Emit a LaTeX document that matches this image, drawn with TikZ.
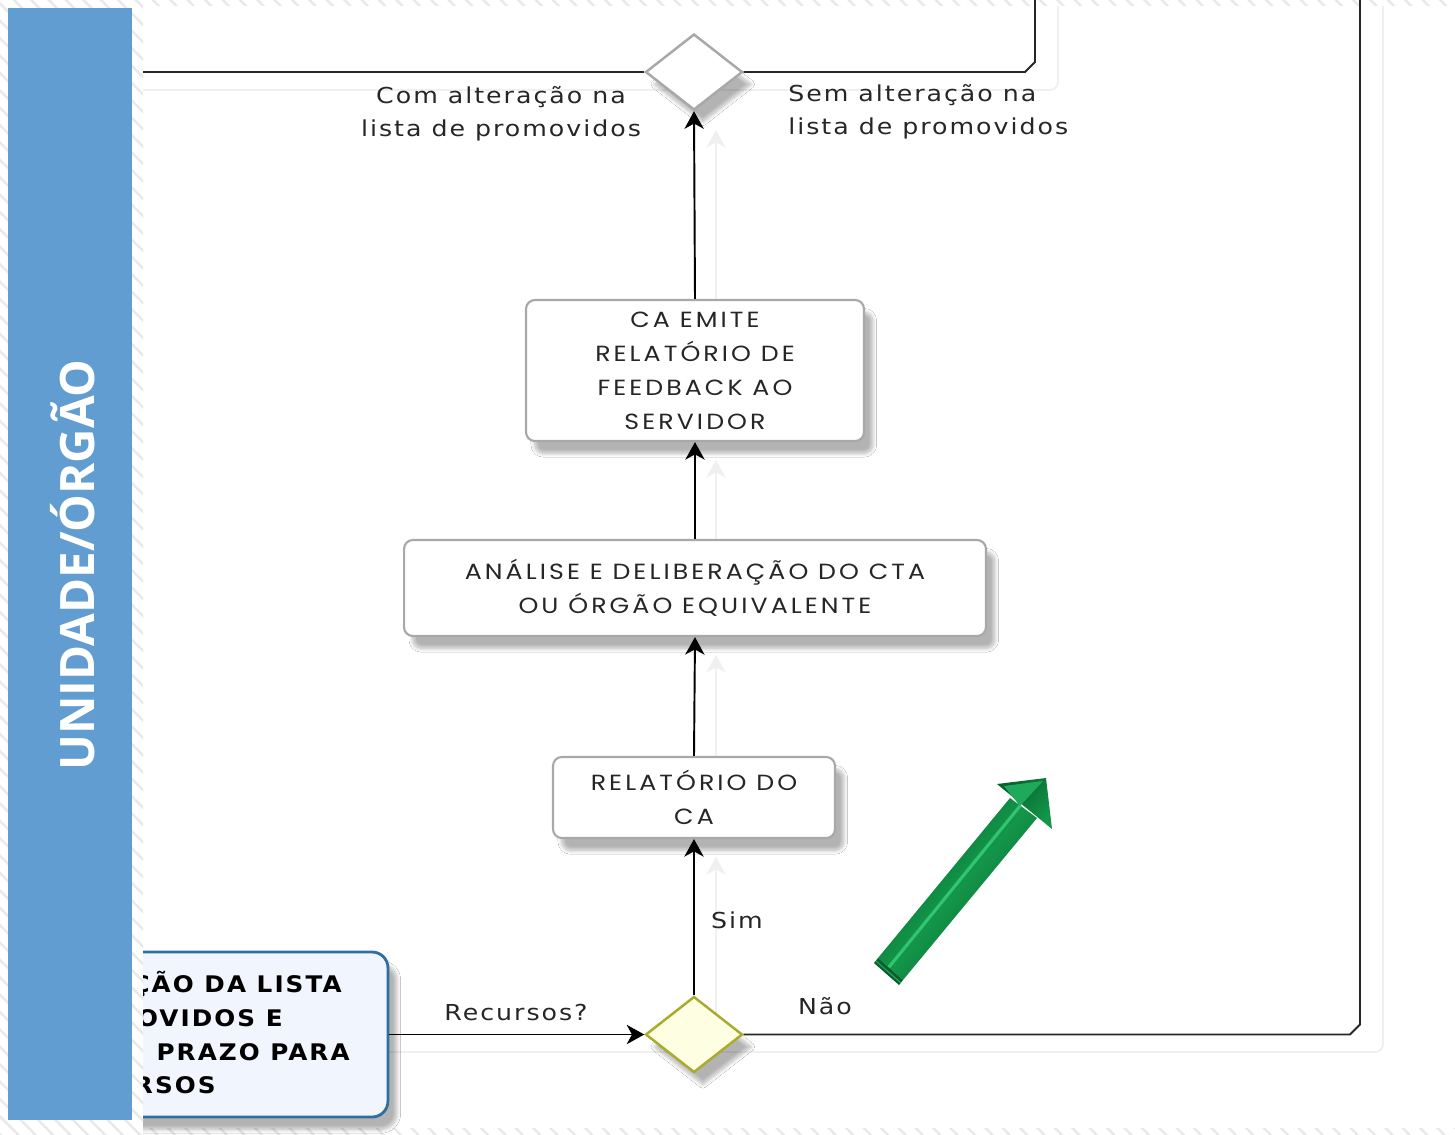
\documentclass[tikz,border=0pt]{standalone}
\usepackage{fontspec}
\setmainfont{DejaVu Sans}
\newfontfamily\boxfont{Poppins}[FakeStretch=1.15,LetterSpace=14]
\newfontfamily\lblfont{DejaVu Sans}[FakeStretch=1.15,LetterSpace=9]
\newfontfamily\taskfont{DejaVu Sans}[FakeStretch=1.08,LetterSpace=9]
\newfontfamily\lanefont{Open Sans}
\usetikzlibrary{arrows.meta,shapes.geometric,patterns.meta,shadows.blur}
\definecolor{laneblue}{HTML}{629DD1}
\definecolor{boxgray}{HTML}{A8A8A8}
\definecolor{gateolive}{HTML}{A9AB2C}
\definecolor{gatefill}{HTML}{FEFEE2}
\definecolor{taskblue}{HTML}{2F6FA0}
\definecolor{taskfill}{HTML}{F1F5FD}
\definecolor{txtdark}{HTML}{262626}
\definecolor{gDark}{HTML}{06602A}
\definecolor{gMid}{HTML}{13964A}
\definecolor{gLight}{HTML}{3CD682}
\tikzset{
  procbox/.style={draw=boxgray, line width=1.2pt, fill=white, rounded corners=5pt,
    blur shadow={shadow xshift=5pt, shadow yshift=-7pt, shadow opacity=30, shadow blur steps=10},
    font=\boxfont\fontsize{12.5}{19.3}\selectfont, text=txtdark, align=center, inner sep=0pt},
  gate/.style={diamond, aspect=1.28, minimum width=1.94cm, minimum height=1.52cm, inner sep=0pt,
    line width=1.4pt, blur shadow={shadow xshift=5pt, shadow yshift=-7pt, shadow opacity=30, shadow blur steps=10}},
  flow/.style={line width=1.1pt, draw=black, -{Stealth[length=10pt,width=11pt,inset=3pt]}},
  conn/.style={line width=1.1pt, draw=black!85},
  ghost/.style={line width=1.1pt, draw=black!6},
  ghostflow/.style={ghost, -{Stealth[length=10pt,width=11pt,inset=3pt]}},
  lbl/.style={font=\lblfont\fontsize{12.5}{18.7}\selectfont, text=txtdark, inner sep=0pt},
  tasktxt/.style={font=\taskfont\bfseries\fontsize{13}{19.3}\selectfont, text=black, inner sep=0pt, anchor=base east},
  hatch/.style={pattern={Lines[angle=-45,distance=7pt,line width=1.3pt]}, pattern color=black!9}
}
\begin{document}
\begin{tikzpicture}[x=0.02cm,y=-0.02cm]
\useasboundingbox (0,0) rectangle (1455,1134);
% page background with hatched margin
\fill[white] (0,0) rectangle (1455,1134);
\fill[hatch] (0,0) rectangle (1455,1134);
\fill[white] (143,6) rectangle (1455,1128);

% faint connector shadows
\draw[ghost] (143,90) -- (1050,90) to[out=0,in=-90] (1058,82) -- (1058,6);
\draw[ghost] (143,1052) -- (1375,1052) to[out=0,in=-90] (1383,1044) -- (1383,6);
\draw[ghostflow] (716,318) -- (716,130);
\draw[ghostflow] (716,558) -- (716,460);
\draw[ghostflow] (716,775) -- (716,655);
\draw[ghostflow] (716,1015) -- (716,857);

% tasks
\node[procbox, minimum width=6.76cm, minimum height=2.82cm] (feedback) at (695,370.5)
  {CA EMITE\\RELATÓRIO DE\\FEEDBACK AO\\SERVIDOR};
\node[procbox, minimum width=11.64cm, minimum height=1.92cm] (analise) at (695,588)
  {ANÁLISE E DELIBERAÇÃO DO CTA\\OU ÓRGÃO EQUIVALENTE};
\node[procbox, minimum width=5.64cm, minimum height=1.62cm] (relca) at (694,797.5)
  {RELATÓRIO DO\\CA};

% divulgation task (left part hidden behind the lane)
\node[draw=taskblue, line width=1.6pt, fill=taskfill, rounded corners=9pt,
  blur shadow={shadow xshift=5pt, shadow yshift=-7pt, shadow opacity=30, shadow blur steps=10},
  minimum width=7.36cm, minimum height=3.3cm, inner sep=0pt] (divulga) at (204,1034.5) {};
\node[tasktxt] (dl1) at (342,992) {ÇÃO DA LISTA};
\node[tasktxt] (dl2) at (283,1026) {MOVIDOS E};
\node[tasktxt] (dl3) at (350,1060) {PRAZO PARA};
\node[tasktxt] (dl4) at (216,1093) {URSOS};

% gateways
\node[gate, draw=boxgray, fill=white] (gtop) at (694,72) {};
\node[gate, draw=gateolive, fill=gatefill] (gbot) at (694,1034.5) {};

% free ends of the connectors
\coordinate (leftend) at (143,72);
\coordinate (topend) at (1035,0);
\coordinate (rightend) at (1360,0);

% connectors
\draw[conn] (gtop.west) -- (leftend);
\draw[conn] (gtop.east) -- (1025,72) -- (1035,62) -- (topend);
\draw[conn] (gbot.east) -- (1350,1034.5) -- (1360,1024.5) -- (rightend);
\draw[flow] (divulga.east) -- (gbot.west);
\draw[flow] (gbot.north) -- (relca.south);
\draw[flow] (relca.north) -- (analise.south);
\draw[flow] (analise.north) -- (feedback.south);
\draw[flow] (feedback.north) -- (gtop.south);

% labels
\node[lbl, align=center] (lcom) at (501,114) {Com alteração na\\lista de promovidos};
\node[lbl, align=left, anchor=west] (lsem) at (788,112) {Sem alteração na\\lista de promovidos};
\node[lbl] (lsim) at (737,920) {Sim};
\node[lbl] (lnao) at (825,1006) {Não};
\node[lbl] (lrec) at (516,1012) {Recursos?};

% green arrow: shaft, highlight, head and stepped tail
\shade[top color=gDark, bottom color=gDark, middle color=gMid, shading angle=50]
  (878,958) -- (1010,798) -- (1037,818) -- (903,980) -- cycle;
\draw[gLight, line width=1.8pt, opacity=0.75, line cap=round] (889,967) -- (1020,806);
\shade[top color=gDark, bottom color=gMid, shading angle=50]
  (997,784) -- (1046,778) -- (1052,829) -- cycle;
\fill[gMid!70!gLight] (1004,786) -- (1043,781) -- (1020,806) -- cycle;
\fill[gDark] (878,958) -- (903,980) -- (899,985) -- (874,963) -- cycle;
\draw[gLight!60!gDark, line width=0.6pt] (876,961) -- (901,983);

% lane with its hatched borders
\fill[white] (0,0) rectangle (143,1134);
\fill[hatch] (0,0) rectangle (143,1134);
\fill[laneblue] (8,8) rectangle (132,1120);
\node[rotate=90, text=white, font=\lanefont\bfseries\fontsize{27}{32}\selectfont] (lanetxt) at (73,565) {UNIDADE/ÓRGÃO};
\end{tikzpicture}
\end{document}
